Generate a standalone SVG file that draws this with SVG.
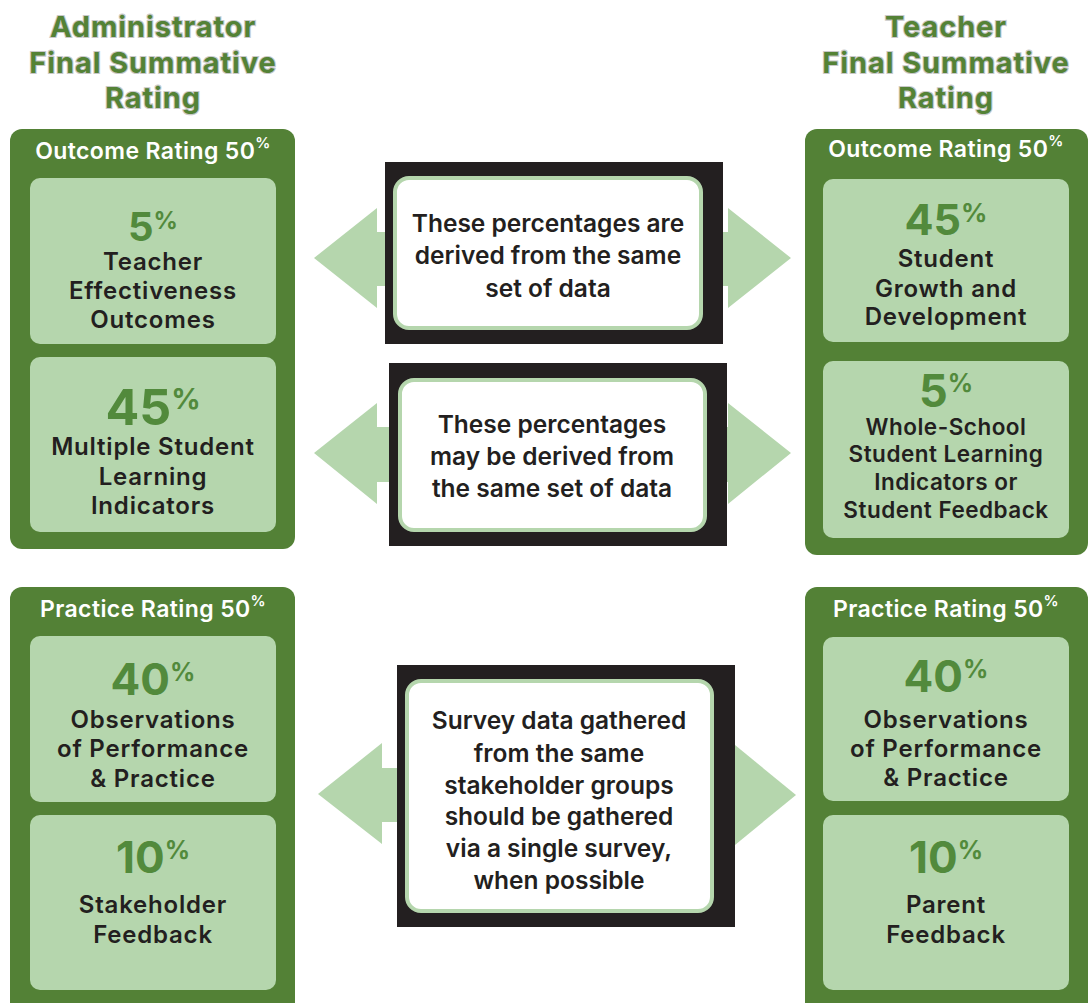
<svg xmlns="http://www.w3.org/2000/svg" width="1090" height="1003" viewBox="0 0 1090 1003">
<style>
.panel{fill:#538136}
.inner{fill:#b5d6ad}
.blk{fill:#231f20}
.note{fill:#ffffff;stroke:#b5d6ad;stroke-width:4}
.arrow{fill:#b5d6ad}
text{font-family:Inter,Lato,sans-serif;text-anchor:middle}
.title{font-weight:700;font-size:29px;fill:#548236;stroke:#c9c9c9;stroke-width:2.2px;paint-order:stroke;letter-spacing:0.9px}
.hdr{font-weight:600;font-size:23px;fill:#ffffff;letter-spacing:0.4px}
.pct{font-weight:700;fill:#528a3c;letter-spacing:0}
.body{font-weight:600;font-size:24px;fill:#231f20;letter-spacing:0.8px}
.sm{font-size:22.5px;letter-spacing:0.5px}
.mid{font-weight:600;font-size:24.5px;fill:#231f20}
</style>
<rect width="1090" height="1003" fill="#ffffff"/>

<g id="connectors">
  <polygon class="arrow" points="314,258 377,208 377,232 390,232 390,286 377,286 377,308"/>
  <polygon class="arrow" points="791,258 728,208 728,232 718,232 718,286 728,286 728,308"/>
  <polygon class="arrow" points="314,453 377,403 377,427 394,427 394,482 377,482 377,504"/>
  <polygon class="arrow" points="791,453 728,403 728,427 722,427 722,482 728,482 728,504"/>
  <polygon class="arrow" points="318,794 382,743 382,768 402,768 402,822 382,822 382,844"/>
  <polygon class="arrow" points="796,795 735,745 730,745 730,845 735,845"/>
</g>

<g id="admin-title">
  <text class="title"><tspan x="153" y="37">Administrator</tspan><tspan x="153" y="73">Final Summative</tspan><tspan x="153" y="108">Rating</tspan></text>
</g>
<g id="teacher-title">
  <text class="title"><tspan x="946" y="37">Teacher</tspan><tspan x="946" y="73">Final Summative</tspan><tspan x="946" y="108">Rating</tspan></text>
</g>

<g id="admin-outcome">
  <rect class="panel" x="10" y="129" width="285" height="420" rx="12"/>
  <text class="hdr" x="153" y="159">Outcome Rating 50<tspan font-size="15" dy="-11">%</tspan></text>
  <g id="admin-outcome-teacher">
    <rect class="inner" x="30" y="178" width="246" height="166" rx="10"/>
    <text class="body"><tspan class="pct" x="153" y="241" font-size="40">5<tspan font-size="24" dy="-12">%</tspan></tspan><tspan x="153" y="270">Teacher</tspan><tspan x="153" y="299">Effectiveness</tspan><tspan x="153" y="328">Outcomes</tspan></text>
  </g>
  <g id="admin-outcome-student">
    <rect class="inner" x="30" y="357" width="246" height="175" rx="10"/>
    <text class="body"><tspan class="pct" x="153" y="425" font-size="50">45<tspan font-size="29" dy="-16">%</tspan></tspan><tspan x="153" y="455">Multiple Student</tspan><tspan x="153" y="485">Learning</tspan><tspan x="153" y="514">Indicators</tspan></text>
  </g>
</g>

<g id="teacher-outcome">
  <rect class="panel" x="805" y="129" width="283" height="426" rx="12"/>
  <text class="hdr" x="946" y="157">Outcome Rating 50<tspan font-size="15" dy="-11">%</tspan></text>
  <g id="teacher-outcome-growth">
    <rect class="inner" x="823" y="179" width="246" height="163" rx="10"/>
    <text class="body"><tspan class="pct" x="946" y="235" font-size="43">45<tspan font-size="26" dy="-13">%</tspan></tspan><tspan x="946" y="267">Student</tspan><tspan x="946" y="297">Growth and</tspan><tspan x="946" y="325">Development</tspan></text>
  </g>
  <g id="teacher-outcome-whole">
    <rect class="inner" x="823" y="361" width="246" height="177" rx="10"/>
    <text class="body sm"><tspan class="pct" x="946" y="407" font-size="45">5<tspan font-size="25" dy="-15">%</tspan></tspan><tspan x="946" y="435">Whole-School</tspan><tspan x="946" y="462">Student Learning</tspan><tspan x="946" y="490">Indicators or</tspan><tspan x="946" y="518">Student Feedback</tspan></text>
  </g>
</g>

<g id="admin-practice">
  <rect class="panel" x="10" y="587" width="285" height="430" rx="12"/>
  <text class="hdr" x="153" y="617">Practice Rating 50<tspan font-size="15" dy="-11">%</tspan></text>
  <g id="admin-practice-obs">
    <rect class="inner" x="30" y="636" width="246" height="166" rx="10"/>
    <text class="body"><tspan class="pct" x="153" y="695" font-size="44">40<tspan font-size="25" dy="-14">%</tspan></tspan><tspan x="153" y="728">Observations</tspan><tspan x="153" y="757">of Performance</tspan><tspan x="153" y="787">&amp; Practice</tspan></text>
  </g>
  <g id="admin-practice-stake">
    <rect class="inner" x="30" y="815" width="246" height="175" rx="10"/>
    <text class="body"><tspan class="pct" x="153" y="873" font-size="44">10<tspan font-size="25" dy="-14">%</tspan></tspan><tspan x="153" y="913">Stakeholder</tspan><tspan x="153" y="943">Feedback</tspan></text>
  </g>
</g>

<g id="teacher-practice">
  <rect class="panel" x="805" y="587" width="283" height="430" rx="12"/>
  <text class="hdr" x="946" y="617">Practice Rating 50<tspan font-size="15" dy="-11">%</tspan></text>
  <g id="teacher-practice-obs">
    <rect class="inner" x="823" y="637" width="246" height="164" rx="10"/>
    <text class="body"><tspan class="pct" x="946" y="692" font-size="44">40<tspan font-size="25" dy="-14">%</tspan></tspan><tspan x="946" y="728">Observations</tspan><tspan x="946" y="757">of Performance</tspan><tspan x="946" y="786">&amp; Practice</tspan></text>
  </g>
  <g id="teacher-practice-parent">
    <rect class="inner" x="823" y="815" width="246" height="175" rx="10"/>
    <text class="body"><tspan class="pct" x="946" y="873" font-size="44">10<tspan font-size="25" dy="-14">%</tspan></tspan><tspan x="946" y="913">Parent</tspan><tspan x="946" y="943">Feedback</tspan></text>
  </g>
</g>

<g id="note-same-data">
  <rect class="blk" x="385" y="162" width="338" height="182"/>
  <rect class="note" x="395" y="178" width="306" height="150" rx="14"/>
  <text class="mid"><tspan x="548" y="232">These percentages are</tspan><tspan x="548" y="264">derived from the same</tspan><tspan x="548" y="297">set of data</tspan></text>
</g>

<g id="note-may-same-data">
  <rect class="blk" x="389" y="363" width="338" height="183"/>
  <rect class="note" x="400" y="380" width="305" height="150" rx="14"/>
  <text class="mid"><tspan x="552" y="433">These percentages</tspan><tspan x="552" y="465">may be derived from</tspan><tspan x="552" y="497">the same set of data</tspan></text>
</g>

<g id="note-survey">
  <rect class="blk" x="397" y="665" width="338" height="262"/>
  <rect class="note" x="407" y="681" width="305" height="230" rx="14"/>
  <text class="mid"><tspan x="559" y="729">Survey data gathered</tspan><tspan x="559" y="762">from the same</tspan><tspan x="559" y="794">stakeholder groups</tspan><tspan x="559" y="825">should be gathered</tspan><tspan x="559" y="857">via a single survey,</tspan><tspan x="559" y="889">when possible</tspan></text>
</g>
</svg>
